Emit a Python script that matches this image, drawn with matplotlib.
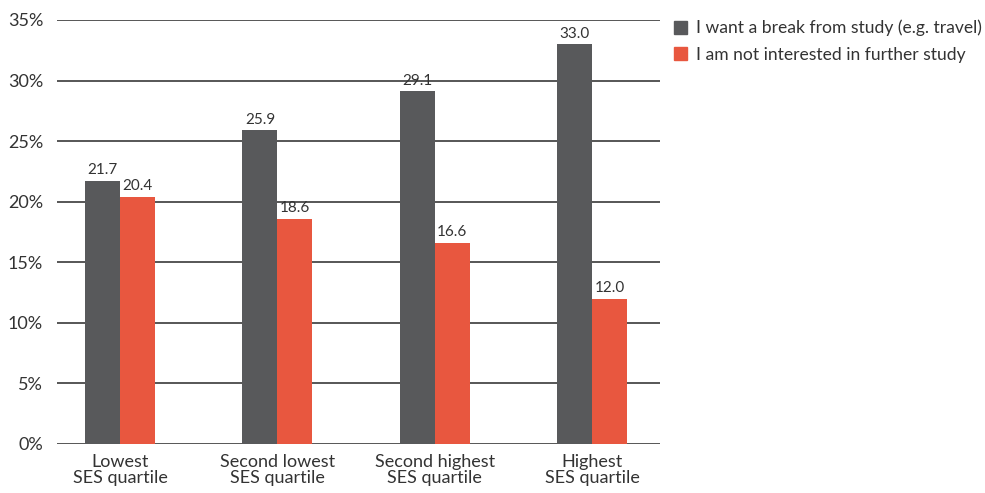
import matplotlib.pyplot as plt
import numpy as np
from matplotlib.patches import Patch

categories = ['Lowest\nSES quartile', 'Second lowest\nSES quartile',
              'Second highest\nSES quartile', 'Highest\nSES quartile']
break_vals = [21.7, 25.9, 29.1, 33.0]
not_interested_vals = [20.4, 18.6, 16.6, 12.0]
series_names = ['I want a break from study (e.g. travel)',
                'I am not interested in further study']
yticks = [0, 5, 10, 15, 20, 25, 30, 35]

dark = '#58595b'
red = '#e8573f'
txt = '#333333'

plt.rcParams['font.family'] = ['Lato', 'DejaVu Sans']

fig = plt.figure(figsize=(9.85, 4.93), dpi=100)
ax = fig.add_axes([57 / 985, 1 - 444 / 493, (660 - 57) / 985, 424 / 493])

x = np.arange(len(categories))
w = 0.222
ax.bar(x - w / 2, break_vals, w, color=dark, zorder=3)
ax.bar(x + w / 2, not_interested_vals, w, color=red, zorder=3)

for xi, v in zip(x, break_vals):
    ax.text(xi - w / 2, v + 0.3, f'{v:.1f}', ha='center', va='bottom', fontsize=11, color=txt)
for xi, v in zip(x, not_interested_vals):
    ax.text(xi + w / 2, v + 0.3, f'{v:.1f}', ha='center', va='bottom', fontsize=11, color=txt)

ax.set_xlim(-0.4, 3.43)
ax.set_ylim(0, 35)
ax.set_yticks(yticks)
ax.set_yticklabels([f'{t}%' for t in yticks])
ax.set_xticks(x)
ax.set_xticklabels(categories)
ax.yaxis.grid(True, color='#3a3a3a', linewidth=1.2, zorder=0)
ax.set_axisbelow(True)
for s in ax.spines.values():
    s.set_visible(False)
ax.tick_params(axis='both', length=0, labelsize=13, colors=txt)
ax.tick_params(axis='y', pad=10)
ax.tick_params(axis='x', pad=7)
for lab in ax.get_xticklabels():
    lab.set_linespacing(1.05)

handles = [Patch(color=dark), Patch(color=red)]
fig.legend(handles, series_names, loc='upper left', bbox_to_anchor=(658 / 985, 1 - 4 / 493),
           frameon=False, fontsize=12.6, handlelength=0.75, handleheight=0.75,
           handletextpad=0.55, labelspacing=0.6, labelcolor=txt)

fig.savefig('out.png', dpi=100)
